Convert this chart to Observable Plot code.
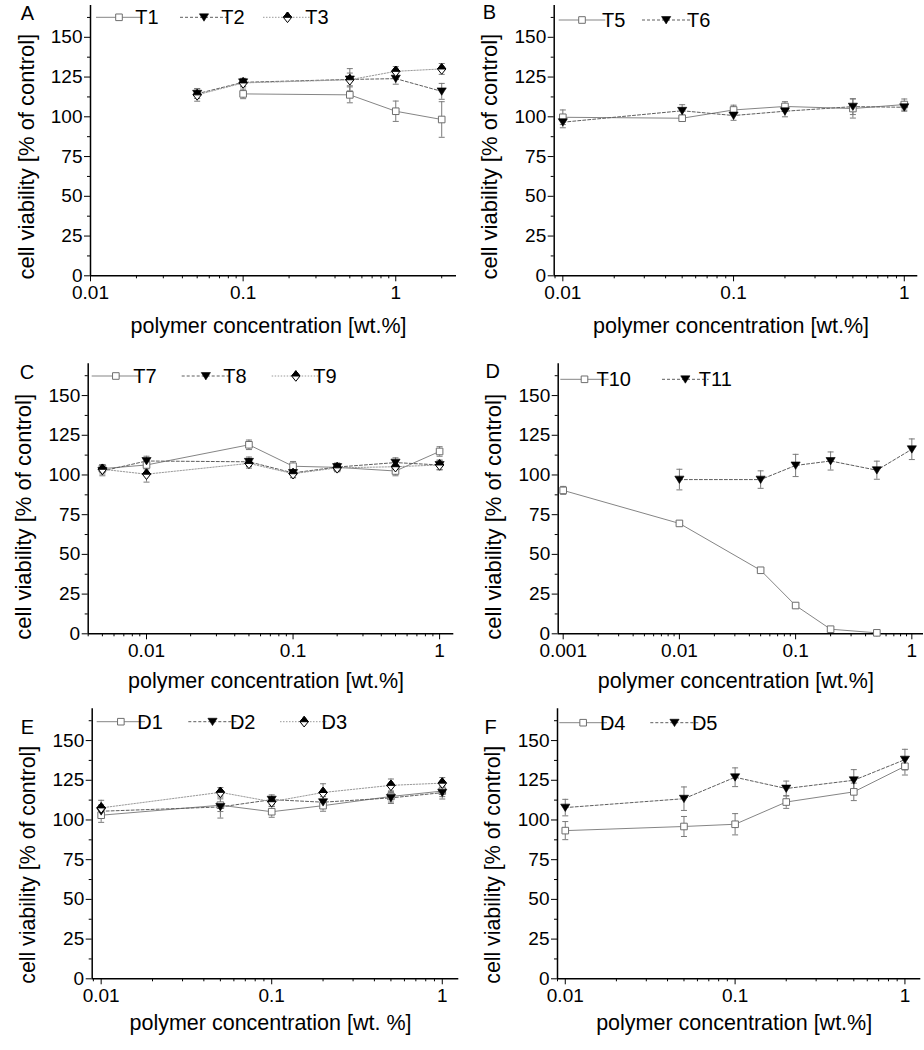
<!DOCTYPE html>
<html><head><meta charset="utf-8">
<script src="https://cdn.jsdelivr.net/npm/d3@7"></script>
<script src="https://cdn.jsdelivr.net/npm/@observablehq/plot@0.6"></script>
<style>
body{margin:0;background:#fff;}
#wrap{position:relative;width:924px;height:1050px;overflow:hidden;background:#fff;}
.panel{position:absolute;}
</style></head><body><div id="wrap"></div>
<script>
// ---------- DATA ----------
const yTicks = [0, 25, 50, 75, 100, 125, 150];
const yMinorTicks = [12.5, 37.5, 62.5, 87.5, 112.5, 137.5, 162.5];
const xTicksA = [0.01, 0.1, 1];
const xTicksB = [0.01, 0.1, 1];
const xTicksC = [0.01, 0.1, 1];
const xTicksD = [0.001, 0.01, 0.1, 1];
const xTicksE = [0.01, 0.1, 1];
const xTicksF = [0.01, 0.1, 1];

const yLabel = "cell viability [% of control]";
const xLabel = "polymer concentration [wt.%]";
const xLabelE = "polymer concentration [wt. %]";
const panelLetters = ["A", "B", "C", "D", "E", "F"];

// Panel A
const concA = [0.05, 0.1, 0.5, 1, 2];
const T1 = [null, 114.4, 113.8, 103.5, 98.3];
const T1err = [null, 3, 5, 6.4, 11.2];
const T2 = [114.5, 121.7, 123.5, 124, 116];
const T2err = [3, 2.5, 4, 3.5, 5];
const T3 = [113.8, 121.3, 123.3, 128.6, 130.1];
const T3err = [4, 2.5, 7, 3, 3.4];
// Panel B
const concB = [0.01, 0.05, 0.1, 0.2, 0.5, 1];
const T5 = [99.7, 99.1, 104.3, 106.5, 105.2, 107.7];
const T5err = [4.6, 2, 3, 3, 6, 3.5];
const T6 = [96.6, 103.8, 100.8, 103.5, 106.4, 106];
const T6err = [3.5, 3.8, 3, 3.5, 5, 2.5];
// Panel C
const concC = [0.005, 0.01, 0.05, 0.1, 0.2, 0.5, 1];
const T7 = [104, 106.3, 119, 105.5, 104.8, 102.5, 114.8];
const T7err = [2.5, 2.5, 3, 3, 2.5, 3, 3];
const T8 = [102.5, 108.8, 108.3, 101.3, 105, 107.8, 106.3];
const T8err = [3, 3, 3, 3, 2.5, 3, 3];
const T9 = [103.6, 100.5, 107.3, 100.8, 104.5, 105.2, 106.3];
const T9err = [3, 5, 3, 2.5, 2.5, 3, 3];
// Panel D
const concD10 = [0.001, 0.01, 0.05, 0.1, 0.2, 0.5];
const T10 = [90.3, 69.5, 40, 17.8, 2.9, 0.6];
const T10err = [2.5, 1.5, 1, 1.5, 1, 1];
const concD11 = [0.01, 0.05, 0.1, 0.2, 0.5, 1];
const T11 = [97.1, 97.1, 106, 108.8, 103, 116.2];
const T11err = [6.5, 5.5, 7, 5.7, 5.7, 6.5];
// Panel E
const concE = [0.01, 0.05, 0.1, 0.2, 0.5, 1];
const D1 = [103, 109.3, 105.2, 109, 114.8, 118.2];
const D1err = [4.5, 4, 3.5, 3.5, 3.5, 3.5];
const D2 = [105.5, 108.2, 112.8, 111.2, 113.9, 117.2];
const D2err = [4, 7, 3, 3.5, 3.5, 4];
const D3 = [107.6, 117.4, 111.5, 117.3, 121.8, 123.2];
const D3err = [4.8, 3, 3, 5.5, 4, 3.5];
// Panel F
const concF = [0.01, 0.05, 0.1, 0.2, 0.5, 1];
const D4 = [93.3, 95.9, 97.3, 111.3, 117.7, 133.8];
const D4err = [5.7, 6.3, 6.7, 4, 5.5, 5.5];
const D5 = [107.8, 113.4, 126.9, 119.8, 125, 138];
const D5err = [5.2, 7.4, 5.9, 4.7, 6.7, 6.5];

// ---------- SERIES / PANELS ----------
const panels = [
  {letter: panelLetters[0], xTicks: xTicksA, xLabel, series: [
    {name: "T1", kind: "square", x: concA, y: T1, e: T1err},
    {name: "T2", kind: "triangle", x: concA, y: T2, e: T2err},
    {name: "T3", kind: "diamond", x: concA, y: T3, e: T3err}]},
  {letter: panelLetters[1], xTicks: xTicksB, xLabel, series: [
    {name: "T5", kind: "square", x: concB, y: T5, e: T5err},
    {name: "T6", kind: "triangle", x: concB, y: T6, e: T6err}]},
  {letter: panelLetters[2], xTicks: xTicksC, xLabel, series: [
    {name: "T7", kind: "square", x: concC, y: T7, e: T7err},
    {name: "T8", kind: "triangle", x: concC, y: T8, e: T8err},
    {name: "T9", kind: "diamond", x: concC, y: T9, e: T9err}]},
  {letter: panelLetters[3], xTicks: xTicksD, xLabel, series: [
    {name: "T10", kind: "square", x: concD10, y: T10, e: T10err},
    {name: "T11", kind: "triangle", x: concD11, y: T11, e: T11err}]},
  {letter: panelLetters[4], xTicks: xTicksE, xLabel: xLabelE, series: [
    {name: "D1", kind: "square", x: concE, y: D1, e: D1err},
    {name: "D2", kind: "triangle", x: concE, y: D2, e: D2err},
    {name: "D3", kind: "diamond", x: concE, y: D3, e: D3err}]},
  {letter: panelLetters[5], xTicks: xTicksF, xLabel, series: [
    {name: "D4", kind: "square", x: concF, y: D4, e: D4err},
    {name: "D5", kind: "triangle", x: concF, y: D5, e: D5err}]}
];

// ---------- LAYOUT (positions / styles) ----------
const layouts = [
  {left: 0, top: 0, width: 462, height: 345, mL: 90, mR: 6, mT: 5, mB: 69.7, xDomain: [0.01, 2.5],
   letter: [27.5, 20], xLabDy: 50, yLabDy: 16, yLabFont: 22, legendY: 17.3, legend: [[96, 142, 147], [180, 228, 233], [263, 312, 317]]},
  {left: 462, top: 0, width: 462, height: 345, mL: 91.7, mR: 6.7, mT: 5, mB: 69.7, xDomain: [0.0089, 1.2],
   letter: [27.5, 18.5], xLabDy: 50, yLabDy: 16, yLabFont: 22, legendY: 20, legend: [[96.7, 143.3, 151.7], [180, 228.3, 236.7]]},
  {left: 0, top: 350, width: 462, height: 345, mL: 87.7, mR: 8.7, mT: 13.3, mB: 61.7, xDomain: [0.004, 1.25],
   letter: [27, 29.3], xLabDy: 47, yLabDy: 18, yLabFont: 22, legendY: 26, legend: [[91.7, 140, 145], [181.7, 230, 235], [271.7, 320, 325]]},
  {left: 462, top: 350, width: 462, height: 345, mL: 95.7, mR: 1, mT: 13.3, mB: 61.7, xDomain: [0.000906, 1.26],
   letter: [30.8, 28.3], xLabDy: 47, yLabDy: 18, yLabFont: 22, legendY: 29.3, legend: [[98.3, 146.7, 151.7], [200, 246.7, 253.3]]},
  {left: 0, top: 700, width: 462, height: 350, mL: 91.7, mR: 3.7, mT: 8.3, mB: 71.7, xDomain: [0.00886, 1.25],
   letter: [27.5, 34], xLabDy: 44, yLabDy: 21, yLabFont: 21.3, legendY: 21.7, legend: [[96.7, 145, 150], [188.3, 236.7, 242.7], [280, 328.3, 334.3]]},
  {left: 462, top: 700, width: 462, height: 350, mL: 95, mR: 3.7, mT: 8.3, mB: 71.7, xDomain: [0.009, 1.24],
   letter: [28.7, 34], xLabDy: 44, yLabDy: 21, yLabFont: 21.3, legendY: 22.7, legend: [[97.3, 145, 150.7], [188.3, 236.7, 242.7]]}
];

const FONT = "Liberation Sans, Arial, Helvetica, sans-serif";
const errColor = "#7a7a7a";
const lineStyle = {
  square: {stroke: "#858585", dash: null},
  triangle: {stroke: "#5e5e5e", dash: "3,2"},
  diamond: {stroke: "#9a9a9a", dash: "1.5,1.5"}
};

// custom symbols
const rad = s => Math.sqrt(s / Math.PI);
const symSquare = {draw(c, s) { const r = rad(s); c.rect(-r, -r, 2 * r, 2 * r); }};
const symTri = {draw(c, s) { const r = rad(s); c.moveTo(-r, -0.75 * r); c.lineTo(r, -0.75 * r); c.lineTo(0, 0.85 * r); c.closePath(); }};
const symDiamond = {draw(c, s) { const r = rad(s); c.moveTo(0, -1.2 * r); c.lineTo(0.95 * r, 0); c.lineTo(0, 1.2 * r); c.lineTo(-0.95 * r, 0); c.closePath(); }};
const symDiamondTop = {draw(c, s) { const r = rad(s); c.moveTo(0, -1.2 * r); c.lineTo(0.95 * r, 0); c.lineTo(-0.95 * r, 0); c.closePath(); }};
const symCap = {draw(c, s) { const r = rad(s); c.moveTo(-r, 0); c.lineTo(r, 0); }};

const markerSpecs = {
  square: [{symbol: symSquare, r: 3.3, fill: "white", stroke: "#6e6e6e", strokeWidth: 1}],
  triangle: [{symbol: symTri, r: 4.6, fill: "black", stroke: "black", strokeWidth: 0.6}],
  diamond: [{symbol: symDiamond, r: 4.4, fill: "white", stroke: "black", strokeWidth: 1},
            {symbol: symDiamondTop, r: 4.4, fill: "black", stroke: "black", strokeWidth: 1}]
};

function minorTicks(domain) {
  const out = [];
  const k0 = Math.floor(Math.log10(domain[0])), k1 = Math.ceil(Math.log10(domain[1]));
  for (let k = k0; k <= k1; k++) {
    for (let m = 2; m <= 9; m++) {
      const v = m * Math.pow(10, k);
      if (v >= domain[0] && v <= domain[1]) out.push(v);
    }
  }
  return out;
}

const wrap = document.getElementById("wrap");

panels.forEach((p, i) => {
  const L = layouts[i];
  const marks = [];
  // axes
  marks.push(Plot.axisY({ticks: yTicks, tickSize: 6, tickPadding: 2, label: null}));
  marks.push(Plot.axisY({ticks: yMinorTicks, tickSize: 3, tickFormat: () => "", label: null}));
  marks.push(Plot.axisX({ticks: p.xTicks, tickSize: 6, tickPadding: 4, tickFormat: d => String(d), label: null}));
  marks.push(Plot.axisX({ticks: minorTicks(L.xDomain), tickSize: 3, tickFormat: () => "", label: null}));
  marks.push(Plot.ruleX([L.xDomain[0]], {stroke: "black", strokeWidth: 1.5}));
  marks.push(Plot.ruleY([0], {stroke: "black", strokeWidth: 1.5}));

  const rowsOf = s => s.x.map((x, j) => ({x, y: s.y[j], e: s.e[j]})).filter(d => d.y != null);
  // lines
  p.series.forEach(s => {
    const st = lineStyle[s.kind];
    marks.push(Plot.line(rowsOf(s), {x: "x", y: "y", stroke: st.stroke, strokeWidth: 1, strokeDasharray: st.dash}));
  });
  // error bars
  p.series.forEach(s => {
    const rows = rowsOf(s);
    marks.push(Plot.ruleX(rows, {x: "x", y1: d => d.y - d.e, y2: d => d.y + d.e, stroke: errColor, strokeWidth: 1}));
    marks.push(Plot.dot(rows, {x: "x", y: d => d.y + d.e, symbol: symCap, r: 3, stroke: errColor, fill: "none", strokeWidth: 1}));
    marks.push(Plot.dot(rows, {x: "x", y: d => Math.max(0, d.y - d.e), symbol: symCap, r: 3, stroke: errColor, fill: "none", strokeWidth: 1}));
  });
  // markers
  p.series.forEach(s => {
    markerSpecs[s.kind].forEach(m => {
      marks.push(Plot.dot(rowsOf(s), {x: "x", y: "y", ...m}));
    });
  });
  // axis titles
  marks.push(Plot.text([yLabel], {text: d => d, frameAnchor: "left", textAnchor: "middle", lineAnchor: "middle",
    dx: -64, dy: L.yLabDy, rotate: -90, fontSize: L.yLabFont, fill: "black"}));
  marks.push(Plot.text([p.xLabel], {text: d => d, frameAnchor: "bottom", textAnchor: "middle", lineAnchor: "middle",
    dx: -5, dy: L.xLabDy, fontSize: 21.5, fill: "black"}));

  const svg = Plot.plot({
    width: L.width, height: L.height,
    marginLeft: L.mL, marginRight: L.mR, marginTop: L.mT, marginBottom: L.mB,
    x: {type: "log", domain: L.xDomain, label: null},
    y: {domain: [0, 170], label: null},
    style: {fontFamily: FONT, fontSize: "19px", color: "black", background: "white", overflow: "visible"},
    marks
  });

  // panel letter + legend
  const sel = d3.select(svg);
  sel.append("text").attr("x", L.letter[0]).attr("y", L.letter[1]).attr("text-anchor", "middle")
    .style("font-size", "20px").attr("font-family", FONT).attr("fill", "black").text(p.letter);
  const lg = sel.append("g");
  p.series.forEach((s, j) => {
    const it = L.legend[j];
    const st = lineStyle[s.kind];
    const ly = L.legendY;
    lg.append("line").attr("x1", it[0]).attr("x2", it[1]).attr("y1", ly).attr("y2", ly)
      .attr("stroke", st.stroke).attr("stroke-width", 1).attr("stroke-dasharray", st.dash);
    const cx = (it[0] + it[1]) / 2;
    markerSpecs[s.kind].forEach(m => {
      lg.append("path").attr("d", d3.symbol(m.symbol, Math.PI * m.r * m.r)())
        .attr("transform", `translate(${cx},${ly})`)
        .attr("fill", m.fill).attr("stroke", m.stroke).attr("stroke-width", m.strokeWidth);
    });
    lg.append("text").attr("x", it[2]).attr("y", ly + 7).style("font-size", "20px").attr("font-family", FONT)
      .attr("fill", "black").text(s.name);
  });

  const div = document.createElement("div");
  div.className = "panel";
  div.style.left = L.left + "px";
  div.style.top = L.top + "px";
  div.appendChild(svg);
  wrap.appendChild(div);
});
</script>
</body></html>
